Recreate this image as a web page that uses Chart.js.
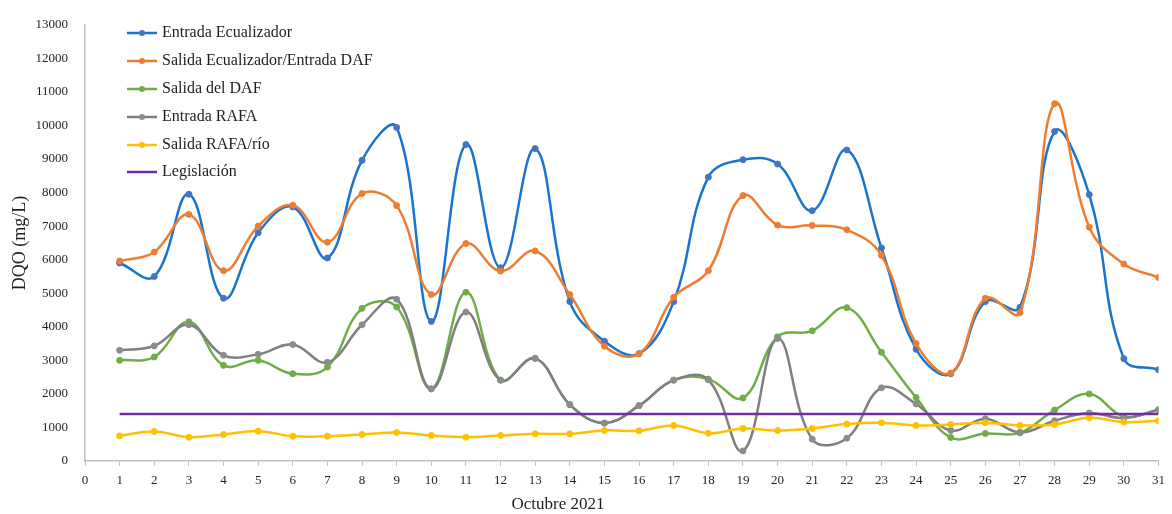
<!DOCTYPE html>
<html>
<head>
<meta charset="utf-8">
<script src="https://cdn.jsdelivr.net/npm/chart.js@4.4.1/dist/chart.umd.min.js"></script>
<style>
  html, body { margin: 0; padding: 0; background: #ffffff; }
  #wrap { width: 1172px; height: 514px; position: relative; }
</style>
</head>
<body>
<div id="wrap"><canvas id="c" width="1172" height="514"></canvas></div>
<script>
// Días de octubre 2021
const days = [1,2,3,4,5,6,7,8,9,10,11,12,13,14,15,16,17,18,19,20,21,22,23,24,25,26,27,28,29,30,31];

// DQO (mg/L) por punto de muestreo
const entradaEcualizador = [5900,5500,7950,4850,6800,7570,6050,8960,9940,4160,9430,5760,9310,4750,3570,3200,4750,8460,8980,8850,7460,9270,6350,3330,2600,4750,4580,9820,7940,3050,2720];
const salidaEcualizador  = [5960,6230,7350,5670,7000,7620,6520,7970,7610,4960,6480,5660,6260,4960,3420,3200,4880,5670,7910,7030,7020,6890,6130,3500,2620,4850,4420,10650,6970,5870,5470];
const salidaDAF          = [3000,3100,4150,2850,3000,2600,2800,4550,4590,2150,5030,2410,3060,1680,1130,1650,2410,2440,1880,3700,3880,4570,3240,1890,700,820,840,1520,2000,1330,1520];
const entradaRAFA        = [3300,3430,4060,3150,3180,3470,2940,4060,4820,2150,4440,2410,3060,1680,1130,1650,2410,2420,300,3650,650,680,2180,1700,910,1260,850,1200,1430,1280,1530];
const salidaRAFArio      = [750,880,710,790,890,740,740,790,850,760,710,760,810,810,910,900,1060,830,970,910,970,1100,1140,1060,1090,1140,1060,1090,1290,1160,1200];
const legislacion        = [1400,1400,1400,1400,1400,1400,1400,1400,1400,1400,1400,1400,1400,1400,1400,1400,1400,1400,1400,1400,1400,1400,1400,1400,1400,1400,1400,1400,1400,1400,1400];

const seriesNames = ['Entrada Ecualizador','Salida Ecualizador/Entrada DAF','Salida del DAF','Entrada RAFA','Salida RAFA/río','Legislación'];
const xTicks = [0,1,2,3,4,5,6,7,8,9,10,11,12,13,14,15,16,17,18,19,20,21,22,23,24,25,26,27,28,29,30,31];
const yTicks = [0,1000,2000,3000,4000,5000,6000,7000,8000,9000,10000,11000,12000,13000];
const xTitle = 'Octubre 2021';
const yTitle = 'DQO (mg/L)';

const FONT = '"Liberation Serif", "DejaVu Serif", serif';
const TEXT = '#1f1f1f';

function pts(vals) { return days.map((d, i) => ({ x: d, y: vals[i] })); }

const styles = [
  { line: '#1874CD', point: '#4472C4' },
  { line: '#ED7D31', point: '#ED7D31' },
  { line: '#70AD47', point: '#70AD47' },
  { line: '#7F7F7F', point: '#8C8C8C' },
  { line: '#FFC000', point: '#FFC000' },
  { line: '#7030A0', point: '#7030A0' }
];

const allVals = [entradaEcualizador, salidaEcualizador, salidaDAF, entradaRAFA, salidaRAFArio, legislacion];

const datasets = allVals.map((vals, i) => ({
  label: seriesNames[i],
  data: pts(vals),
  borderColor: styles[i].line,
  backgroundColor: styles[i].point,
  pointBackgroundColor: styles[i].point,
  pointBorderColor: styles[i].point,
  pointRadius: i === 5 ? 0 : 3,
  pointBorderWidth: 1,
  borderWidth: 2.5,
  tension: i === 5 ? 0 : 0.4,
  cubicInterpolationMode: 'default',
  order: 6 - i
}));

// Leyenda dentro del área de trazado y título del eje X
const insideLegend = {
  id: 'insideLegend',
  afterDraw(chart) {
    const ctx = chart.ctx;
    const x0 = 127, x1 = 157, xt = 162;
    const rows = [33, 61, 89, 117, 145, 172];
    ctx.save();
    ctx.font = '16px ' + FONT;
    ctx.textBaseline = 'middle';
    ctx.textAlign = 'left';
    seriesNames.forEach((name, i) => {
      const y = rows[i];
      ctx.strokeStyle = styles[i].line;
      ctx.lineWidth = 2.5;
      ctx.beginPath();
      ctx.moveTo(x0, y);
      ctx.lineTo(x1, y);
      ctx.stroke();
      if (i !== 5) {
        ctx.fillStyle = styles[i].point;
        ctx.beginPath();
        ctx.arc((x0 + x1) / 2, y, 3, 0, Math.PI * 2);
        ctx.fill();
      }
      ctx.fillStyle = TEXT;
      ctx.fillText(name, xt, y);
    });
    ctx.font = '17px ' + FONT;
    ctx.textAlign = 'center';
    ctx.fillText(xTitle, 558, 505);
    ctx.restore();
  }
};

new Chart(document.getElementById('c'), {
  type: 'line',
  data: { datasets },
  plugins: [insideLegend],
  options: {
    responsive: false,
    animation: false,
    devicePixelRatio: 1,
    layout: { padding: { top: 12, right: 9, left: 0, bottom: 0 } },
    plugins: {
      legend: { display: false },
      tooltip: { enabled: false }
    },
    scales: {
      x: {
        type: 'linear',
        min: 0,
        max: 31,
        afterBuildTicks(scale) { scale.ticks = xTicks.map(v => ({ value: v })); },
        afterFit(scale) { scale.height = 53; },
        border: { display: true, color: '#BFBFBF', width: 1.5 },
        grid: { display: true, drawOnChartArea: false, drawTicks: true, tickLength: 5, color: '#BFBFBF' },
        ticks: { color: TEXT, font: { family: FONT, size: 13 }, padding: 7, maxRotation: 0, autoSkip: false },
        title: { display: false }
      },
      y: {
        min: 0,
        max: 13000,
        afterBuildTicks(scale) { scale.ticks = yTicks.map(v => ({ value: v })); },
        afterFit(scale) { scale.width = 85; },
        border: { display: true, color: '#BFBFBF', width: 1.5 },
        grid: { display: true, drawOnChartArea: false, drawTicks: false },
        ticks: { color: TEXT, font: { family: FONT, size: 13 }, padding: 17, callback: v => String(v) },
        title: { display: true, text: yTitle, color: TEXT, font: { family: FONT, size: 18 }, padding: { top: 9, bottom: 0 } }
      }
    }
  }
});
</script>
</body>
</html>
